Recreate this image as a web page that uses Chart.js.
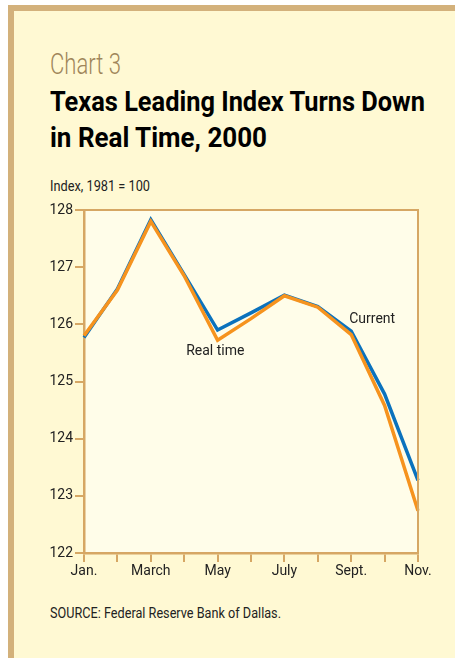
<!DOCTYPE html>
<html>
<head>
<meta charset="utf-8">
<script src="https://cdn.jsdelivr.net/npm/chart.js@4/dist/chart.umd.min.js"></script>
<style>
  html, body { margin: 0; padding: 0; background: #ffffff; width: 455px; height: 658px; overflow: hidden; }
  #panel { position: absolute; left: 8px; top: 5px; width: 447px; height: 653px; box-sizing: border-box;
           border-top: 6px solid #d3b17b; border-left: 6px solid #d3b17b; background: #fff9d3; }
  .t { position: absolute; left: 50px; font-family: Roboto, "Liberation Sans", sans-serif; white-space: nowrap; transform-origin: 0 0; }
  #c3 { top: 49.6px; font-size: 29px; line-height: 29px; font-weight: 300; color: #a0865a; }
  #t1 { top: 84.4px; font-size: 28px; line-height: 36px; font-weight: bold; color: #000; }
  #t2 { top: 120.4px; font-size: 28px; line-height: 36px; font-weight: bold; color: #000; }
  #unit { top: 178.7px; font-size: 14px; line-height: 14px; color: #222; }
  #src { top: 605.7px; font-size: 14px; line-height: 14px; color: #222; }
  #chart { position: absolute; left: 0; top: 0; }
</style>
</head>
<body>
<div id="panel"></div>
<div class="t" id="c3" data-w="71">Chart 3</div>
<div class="t" id="t1" data-w="375">Texas Leading Index Turns Down</div>
<div class="t" id="t2" data-w="217">in Real Time, 2000</div>
<div class="t" id="unit" data-w="100">Index, 1981 = 100</div>
<div class="t" id="src" data-w="231">SOURCE: Federal Reserve Bank of Dallas.</div>
<canvas id="chart" width="455" height="658"></canvas>
<script>
const months = ['Jan.', 'Feb.', 'March', 'April', 'May', 'June', 'July', 'Aug.', 'Sept.', 'Oct.', 'Nov.'];
const xTickLabels = ['Jan.', '', 'March', '', 'May', '', 'July', '', 'Sept.', '', 'Nov.'];
const currentSeries = [125.77, 126.62, 127.83, 126.87, 125.9, 126.2, 126.51, 126.31, 125.88, 124.78, 123.27];
const realTimeSeries = [125.8, 126.6, 127.8, 126.85, 125.72, 126.1, 126.5, 126.3, 125.82, 124.58, 122.74];
const yTicks = [122, 123, 124, 125, 126, 127, 128];

// fit heading widths to the condensed type of the original
document.querySelectorAll('.t').forEach(el => {
  const w = el.getBoundingClientRect().width;
  const target = parseFloat(el.dataset.w);
  el.style.transform = 'scaleX(' + (target / w) + ')';
});

const FONT = 'Roboto, "Liberation Sans", sans-serif';
const TAN = '#d6a764';

const plotFrame = {
  id: 'plotFrame',
  beforeDraw(chart) {
    const { ctx, chartArea: a } = chart;
    ctx.save();
    ctx.fillStyle = '#fffde9';
    ctx.fillRect(a.left, a.top, a.right - a.left, a.bottom - a.top);
    ctx.restore();
  },
  afterDatasetsDraw(chart) {
    const { ctx, chartArea: a } = chart;
    ctx.save();
    ctx.strokeStyle = TAN;
    ctx.lineWidth = 2;
    ctx.beginPath();
    ctx.moveTo(a.left, a.top);
    ctx.lineTo(a.right, a.top);
    ctx.lineTo(a.right, a.bottom);
    ctx.stroke();
    const xs = chart.scales.x, ys = chart.scales.y;
    ctx.fillStyle = '#222';
    ctx.font = '14px ' + FONT;
    ctx.textBaseline = 'middle';
    ctx.textAlign = 'left';
    ctx.fillText('Current', xs.getPixelForValue(8) - 2, ys.getPixelForValue(126.08));
    ctx.fillText('Real time', xs.getPixelForValue(3) + 2, ys.getPixelForValue(125.53));
    ctx.restore();
  }
};

new Chart(document.getElementById('chart'), {
  type: 'line',
  data: {
    labels: months,
    datasets: [
      { label: 'Real time', data: realTimeSeries, borderColor: '#f6931e', borderWidth: 3.5, pointRadius: 0, tension: 0, fill: false, order: 0 },
      { label: 'Current', data: currentSeries, borderColor: '#0b72bd', borderWidth: 3.5, pointRadius: 0, tension: 0, fill: false, order: 1 }
    ]
  },
  options: {
    responsive: false,
    animation: false,
    layout: { padding: { left: 0, right: 37, top: 210, bottom: 0 } },
    plugins: { legend: { display: false }, tooltip: { enabled: false } },
    scales: {
      x: {
        type: 'category',
        offset: false,
        afterFit(s) { s.height = 105; },
        grid: { display: true, drawOnChartArea: false, drawTicks: true, tickLength: 9, color: TAN, lineWidth: 2 },
        border: { display: true, color: TAN, width: 2.5 },
        ticks: {
          autoSkip: false, maxRotation: 0, padding: 1,
          color: '#222', font: { family: FONT, size: 14 },
          callback: (v, i) => xTickLabels[i]
        }
      },
      y: {
        min: 122, max: 128,
        afterFit(s) { s.width = 84; },
        afterBuildTicks(s) { s.ticks = yTicks.map(v => ({ value: v })); },
        grid: { display: true, drawOnChartArea: false, drawTicks: true, tickLength: 9, color: TAN, lineWidth: 2 },
        border: { display: true, color: TAN, width: 2.5 },
        ticks: { padding: 2, color: '#222', font: { family: FONT, size: 14 } }
      }
    }
  },
  plugins: [plotFrame]
});
</script>
</body>
</html>
